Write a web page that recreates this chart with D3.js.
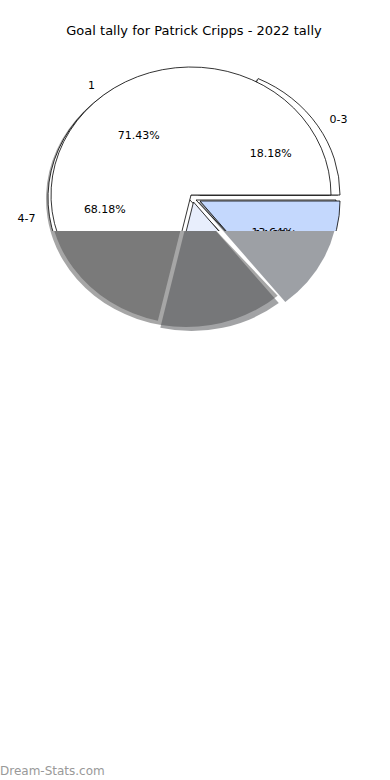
<!DOCTYPE html>
<html>
<head>
<meta charset="utf-8">
<title>Goal tally for Patrick Cripps - 2022 tally</title>
<style>
	body { margin: 0; background: #fff; }
	text { font-family: "DejaVu Sans", sans-serif; }
</style>
</head>
<body>
<script src="https://cdn.jsdelivr.net/npm/d3@7/dist/d3.min.js"></script>
<script>
// two tallies drawn on top of each other
var tallyALabels = ["0-3", "4-7", ""];
var tallyAValues = [4, 15, 3];
var tallyBLabels = ["1", "", ""];
var tallyBValues = [5, 1, 1];
var titleText = "Goal tally for Patrick Cripps - 2022 tally";
var markText = "Dream-Stats.com";

var W = 390, H = 780;
var rx = 140, ry = 128;      // pie is squashed a bit vertically
var cutY = 231;              // below this line only the shadows got drawn
var shadowShift = [-2, 1];

var pies = [
	{labels: tallyALabels, values: tallyAValues, cx: 188, cy: 198,
	 colors: ["#ffffff", "#ffffff", "none"],
	 shift: [[12, -3], [0, 0], [8, 2]]},
	{labels: tallyBLabels, values: tallyBValues, cx: 191, cy: 195,
	 colors: ["#ffffff", "#e8eefc", "#c4d8fd"],
	 shift: [[0, 0], [2.5, 7], [9, 6]]}
];

var svg = d3.select("body").append("svg")
	.attr("width", W)
	.attr("height", H);

var defs = svg.append("defs");
defs.append("clipPath").attr("id", "top")
	.append("rect").attr("x", 0).attr("y", 0).attr("width", W).attr("height", cutY);
defs.append("clipPath").attr("id", "bottom")
	.append("rect").attr("x", 0).attr("y", cutY).attr("width", W).attr("height", H - cutY);

// matplotlib style: start at 3 o'clock, go counter clockwise
var pie = d3.pie().sort(null)
	.startAngle(Math.PI / 2)
	.endAngle(Math.PI / 2 - 2 * Math.PI)
	.value(function(d){ return d; });

var arc = d3.arc().innerRadius(0).outerRadius(rx);
var fmt = d3.format(".2f");

pies.forEach(function(p){
	p.arcs = pie(p.values);
	p.total = d3.sum(p.values);
});

function shadowColor(c){
	if (c == "none") return "none";
	var k = d3.rgb(c);
	return d3.rgb(k.r * 0.3, k.g * 0.3, k.b * 0.3).toString();
}

function drawShadows(g){
	pies.forEach(function(p){
		g.selectAll(null).data(p.arcs).enter()
			.append("path")
			.attr("transform", function(d, i){
				return "translate(" + (p.cx + p.shift[i][0] + shadowShift[0]) + "," + (p.cy + p.shift[i][1] + shadowShift[1]) + ") scale(1," + (ry / rx) + ")";
			})
			.attr("d", arc)
			.attr("fill", function(d, i){ return shadowColor(p.colors[i]); })
			.attr("fill-opacity", 0.5);
	});
}

// lower part: shadows only
var low = svg.append("g").attr("clip-path", "url(#bottom)");
drawShadows(low);

// upper part: shadows, wedges, texts
var up = svg.append("g").attr("clip-path", "url(#top)");
drawShadows(up);

pies.forEach(function(p){
	up.selectAll(null).data(p.arcs).enter()
		.append("path")
		.attr("transform", function(d, i){
			return "translate(" + (p.cx + p.shift[i][0]) + "," + (p.cy + p.shift[i][1]) + ") scale(1," + (ry / rx) + ")";
		})
		.attr("d", arc)
		.attr("fill", function(d, i){ return p.colors[i]; })
		.attr("stroke", "#000")
		.attr("stroke-width", 0.8)
		.attr("vector-effect", "non-scaling-stroke");
});

pies.forEach(function(p){
	p.arcs.forEach(function(d, i){
		var mid = (d.startAngle + d.endAngle) / 2;
		var ux = Math.sin(mid), uy = -Math.cos(mid) * ry / rx;
		var ox = p.cx + p.shift[i][0], oy = p.cy + p.shift[i][1];
		up.append("text")
			.attr("x", ox + 1.1 * rx * ux)
			.attr("y", oy + 1.1 * rx * uy)
			.attr("dy", "0.35em")
			.attr("text-anchor", ux > 0 ? "start" : "end")
			.attr("font-size", 11)
			.text(p.labels[i]);
		up.append("text")
			.attr("x", ox + 0.6 * rx * ux)
			.attr("y", oy + 0.6 * rx * uy)
			.attr("dy", "0.35em")
			.attr("text-anchor", "middle")
			.attr("font-size", 11)
			.text(fmt(d.value / p.total * 100) + "%");
	});
});

svg.append("text")
	.attr("x", 194)
	.attr("y", 35)
	.attr("text-anchor", "middle")
	.attr("font-size", 13)
	.text(titleText);

svg.append("text")
	.attr("x", 0)
	.attr("y", 775)
	.attr("font-size", 12)
	.attr("fill", "#999999")
	.text(markText);
</script>
</body>
</html>
